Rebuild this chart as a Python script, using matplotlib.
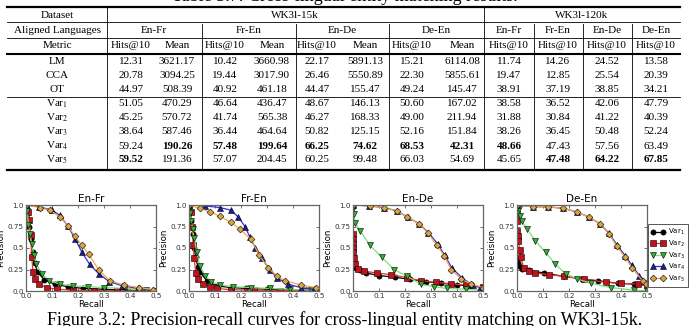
import matplotlib
matplotlib.use('Agg')
import matplotlib.pyplot as plt
from matplotlib.lines import Line2D
import numpy as np

W, H = 692, 326
SERIF = 'Liberation Serif'

# ---- table data ----
methods = ['LM', 'CCA', 'OT', 'Var$_1$', 'Var$_2$', 'Var$_3$', 'Var$_4$', 'Var$_5$']
enfr_hits = [12.31, 20.78, 44.97, 51.05, 45.25, 38.64, 59.24, 59.52]
enfr_mean = [3621.17, 3094.25, 508.39, 470.29, 570.72, 587.46, 190.26, 191.36]
fren_hits = [10.42, 19.44, 40.92, 46.64, 41.74, 36.44, 57.48, 57.07]
fren_mean = [3660.98, 3017.90, 461.18, 436.47, 565.38, 464.64, 199.64, 204.45]
ende_hits = [22.17, 26.46, 44.47, 48.67, 46.27, 50.82, 66.25, 60.25]
ende_mean = [5891.13, 5550.89, 155.47, 146.13, 168.33, 125.15, 74.62, 99.48]
deen_hits = [15.21, 22.30, 49.24, 50.60, 49.00, 52.16, 68.53, 66.03]
deen_mean = [6114.08, 5855.61, 145.47, 167.02, 211.94, 151.84, 42.31, 54.69]
big_enfr = [11.74, 19.47, 38.91, 38.58, 31.88, 38.26, 48.66, 45.65]
big_fren = [14.26, 12.85, 37.19, 36.52, 30.84, 36.45, 47.43, 47.48]
big_ende = [24.52, 25.54, 38.85, 42.06, 41.22, 50.48, 57.56, 64.22]
big_deen = [13.58, 20.39, 34.21, 47.79, 40.39, 52.24, 63.49, 67.85]
pairs = ['En-Fr', 'Fr-En', 'En-De', 'De-En']

# ---- precision-recall curves (recall, precision) per variant ----
enfr_recall = [
    [0.0, 0.005, 0.012, 0.018, 0.025, 0.033, 0.045, 0.07, 0.11, 0.16, 0.22, 0.3, 0.38, 0.46, 0.5],
    [0.0, 0.008, 0.013, 0.018, 0.022, 0.027, 0.035, 0.05, 0.08, 0.12, 0.18, 0.26, 0.35, 0.44, 0.5],
    [0.0, 0.005, 0.009, 0.015, 0.022, 0.03, 0.04, 0.06, 0.09, 0.13, 0.18, 0.24, 0.3, 0.38, 0.46],
    [0.0, 0.05, 0.1, 0.13, 0.16, 0.19, 0.215, 0.245, 0.28, 0.32, 0.37, 0.43, 0.49],
    [0.0, 0.052, 0.092, 0.131, 0.16, 0.188, 0.215, 0.241, 0.281, 0.323, 0.376, 0.435, 0.49],
]
enfr_precision = [
    [1.0, 0.9, 0.75, 0.6, 0.45, 0.32, 0.22, 0.13, 0.08, 0.05, 0.03, 0.02, 0.01, 0.005, 0.0],
    [1.0, 0.92, 0.82, 0.65, 0.40, 0.22, 0.14, 0.08, 0.04, 0.02, 0.01, 0.005, 0.003, 0.002, 0.0],
    [1.0, 0.93, 0.77, 0.66, 0.55, 0.42, 0.31, 0.2, 0.12, 0.08, 0.06, 0.05, 0.04, 0.03, 0.015],
    [1.0, 0.98, 0.94, 0.88, 0.76, 0.6, 0.45, 0.31, 0.2, 0.11, 0.06, 0.03, 0.01],
    [1.0, 0.97, 0.94, 0.86, 0.76, 0.64, 0.53, 0.43, 0.24, 0.12, 0.07, 0.04, 0.015],
]
fren_recall = [
    [0.0, 0.005, 0.009, 0.016, 0.02, 0.026, 0.034, 0.042, 0.068, 0.107, 0.16, 0.22, 0.3, 0.38, 0.45, 0.5],
    [0.0, 0.006, 0.012, 0.016, 0.02, 0.026, 0.035, 0.055, 0.08, 0.107, 0.16, 0.25, 0.35, 0.45, 0.5],
    [0.0, 0.003, 0.009, 0.014, 0.02, 0.03, 0.042, 0.06, 0.085, 0.12, 0.17, 0.24, 0.31, 0.39, 0.47],
    [0.0, 0.06, 0.12, 0.16, 0.19, 0.215, 0.234, 0.255, 0.28, 0.31, 0.34, 0.38, 0.43, 0.48],
    [0.0, 0.042, 0.08, 0.118, 0.16, 0.196, 0.238, 0.27, 0.304, 0.34, 0.37, 0.43, 0.487],
]
fren_precision = [
    [1.0, 0.92, 0.81, 0.66, 0.5, 0.39, 0.28, 0.22, 0.12, 0.06, 0.04, 0.03, 0.02, 0.015, 0.01, 0.01],
    [1.0, 0.92, 0.75, 0.53, 0.38, 0.21, 0.14, 0.08, 0.05, 0.03, 0.015, 0.01, 0.005, 0.003, 0.0],
    [1.0, 0.91, 0.81, 0.72, 0.62, 0.45, 0.29, 0.18, 0.11, 0.07, 0.05, 0.04, 0.03, 0.02, 0.01],
    [1.0, 0.99, 0.97, 0.94, 0.86, 0.75, 0.63, 0.5, 0.38, 0.25, 0.15, 0.08, 0.04, 0.02],
    [1.0, 0.96, 0.92, 0.87, 0.8, 0.72, 0.6, 0.42, 0.27, 0.17, 0.12, 0.07, 0.04],
]
ende_recall = [
    [0.0, 0.003, 0.01, 0.025, 0.05, 0.1, 0.16, 0.22, 0.28, 0.34, 0.4, 0.45, 0.5],
    [0.0, 0.0, 0.0, 0.0, 0.0, 0.004, 0.009, 0.018, 0.041, 0.093, 0.145, 0.209, 0.26, 0.319, 0.377, 0.435, 0.5],
    [0.0, 0.002, 0.009, 0.028, 0.065, 0.112, 0.158, 0.209, 0.26, 0.31, 0.36, 0.435, 0.5],
    [0.0, 0.06, 0.12, 0.17, 0.21, 0.255, 0.29, 0.325, 0.352, 0.38, 0.42, 0.46, 0.49],
    [0.0, 0.067, 0.119, 0.168, 0.209, 0.255, 0.289, 0.323, 0.351, 0.377, 0.416, 0.455, 0.5],
]
ende_precision = [
    [0.36, 0.3, 0.27, 0.24, 0.21, 0.18, 0.16, 0.135, 0.11, 0.09, 0.07, 0.06, 0.045],
    [0.66, 0.6, 0.55, 0.5, 0.45, 0.38, 0.31, 0.26, 0.23, 0.21, 0.19, 0.155, 0.12, 0.10, 0.085, 0.066, 0.05],
    [0.95, 0.89, 0.79, 0.70, 0.53, 0.39, 0.25, 0.17, 0.08, 0.05, 0.03, 0.02, 0.01],
    [1.0, 0.99, 0.97, 0.93, 0.86, 0.78, 0.68, 0.55, 0.42, 0.27, 0.15, 0.07, 0.04],
    [1.0, 0.99, 0.97, 0.93, 0.86, 0.78, 0.67, 0.53, 0.41, 0.25, 0.14, 0.08, 0.04],
]
deen_recall = [
    [0.0, 0.002, 0.006, 0.019, 0.045, 0.103, 0.18, 0.25, 0.31, 0.387, 0.45, 0.5],
    [0.0, 0.0, 0.0, 0.002, 0.005, 0.01, 0.015, 0.026, 0.045, 0.071, 0.122, 0.18, 0.258, 0.341, 0.4, 0.464, 0.5],
    [0.0, 0.006, 0.01, 0.019, 0.039, 0.071, 0.11, 0.148, 0.187, 0.232, 0.283, 0.36, 0.45, 0.5],
    [0.0, 0.062, 0.119, 0.178, 0.229, 0.277, 0.32, 0.354, 0.384, 0.416, 0.442, 0.47, 0.5],
    [0.0, 0.062, 0.119, 0.178, 0.229, 0.277, 0.32, 0.354, 0.384, 0.416, 0.442, 0.483, 0.496],
]
deen_precision = [
    [0.37, 0.33, 0.29, 0.26, 0.24, 0.21, 0.17, 0.14, 0.12, 0.09, 0.08, 0.066],
    [0.9, 0.81, 0.7, 0.64, 0.58, 0.48, 0.39, 0.27, 0.23, 0.21, 0.19, 0.17, 0.14, 0.1, 0.09, 0.08, 0.066],
    [0.97, 0.95, 0.87, 0.81, 0.72, 0.58, 0.45, 0.31, 0.2, 0.14, 0.09, 0.04, 0.01, 0.0],
    [1.0, 0.98, 0.98, 0.96, 0.92, 0.86, 0.78, 0.67, 0.54, 0.41, 0.3, 0.18, 0.1],
    [1.0, 0.98, 0.98, 0.96, 0.92, 0.86, 0.78, 0.66, 0.52, 0.39, 0.27, 0.12, 0.08],
]

var_labels = ['Var$_1$', 'Var$_2$', 'Var$_3$', 'Var$_4$', 'Var$_5$']
line_colors = ['black', '#e3382e', '#7fe07f', '#2f2fd8', '#f4a94a']
face_colors = ['black', '#c4121c', '#33b033', '#1c1c9c', '#d8a546']
markers = ['o', 's', 'v', '^', 'D']
msizes = [3.8, 4.0, 4.2, 4.2, 3.5]


def fx(px):
    return px / W


def fy(py):
    return 1 - py / H


fig = plt.figure(figsize=(W / 100, H / 100), dpi=100)


def hline(y, x0, x1, lw):
    fig.add_artist(Line2D([fx(x0), fx(x1)], [fy(y), fy(y)], color='black', lw=lw,
                          transform=fig.transFigure))


def vline(x, y0, y1, lw=0.6):
    fig.add_artist(Line2D([fx(x), fx(x)], [fy(y0), fy(y1)], color='black', lw=lw,
                          transform=fig.transFigure))


def cell(x, y, s, bold=False, size=8):
    fig.text(fx(x), fy(y), s, ha='center', va='center', family=SERIF, fontsize=size,
             fontweight='bold' if bold else 'normal', math_fontfamily='stix')


# ---- table ----
fig.text(fx(345), fy(1.0), 'Table 3.7: Cross-lingual entity matching results.', ha='center',
         va='baseline', family=SERIF, fontsize=13)

left, right = 7, 680
hline(7, left, right, 1.6)
hline(22, left, right, 0.6)
hline(38, left, right, 0.6)
hline(54, left, right, 1.5)
hline(97, left, right, 0.6)
hline(170, left, right, 1.6)
for x in [107, 484]:
    vline(x, 7, 170)
for x in [202, 296, 389, 534, 583, 632]:
    vline(x, 24, 170)

label_x = 57
cell(label_x, 15, 'Dataset')
cell(label_x, 30.5, 'Aligned Languages')
cell(label_x, 46, 'Metric')
cell(295, 15, 'WK3l-15k')
cell(582, 15, 'WK3l-120k')

small_pairs_x = [154, 249, 342, 436]
hits_x = [131, 225, 317, 412]
mean_x = [177, 272, 365, 462]
big_x = [509, 558, 607, 656]
for i, p in enumerate(pairs):
    cell(small_pairs_x[i], 30.5, p)
    cell(hits_x[i], 46, 'Hits@10')
    cell(mean_x[i], 46, 'Mean')
    cell(big_x[i], 30.5, p)
    cell(big_x[i], 46, 'Hits@10')

row_y = [62, 76, 89.5, 104, 118, 132, 146, 159.5]
small_cols = [(enfr_hits, enfr_mean), (fren_hits, fren_mean),
              (ende_hits, ende_mean), (deen_hits, deen_mean)]
big_cols = [big_enfr, big_fren, big_ende, big_deen]
for r, name in enumerate(methods):
    cell(label_x, row_y[r], name)
    for i, (h, m) in enumerate(small_cols):
        cell(hits_x[i], row_y[r], f'{h[r]:.2f}', bold=(r == int(np.argmax(h))))
        cell(mean_x[i], row_y[r], f'{m[r]:.2f}', bold=(r == int(np.argmin(m))))
    for i, b in enumerate(big_cols):
        cell(big_x[i], row_y[r], f'{b[r]:.2f}', bold=(r == int(np.argmax(b))))

# ---- precision-recall panels ----
panels = [(enfr_recall, enfr_precision), (fren_recall, fren_precision),
          (ende_recall, ende_precision), (deen_recall, deen_precision)]
ax_left = [26, 189, 353, 517]
ax_w, ax_top, ax_bot = 130, 205, 291

for k, (rec, prec) in enumerate(panels):
    ax = fig.add_axes([fx(ax_left[k]), fy(ax_bot), ax_w / W, (ax_bot - ax_top) / H])
    for v in range(5):
        ax.plot(rec[v], prec[v], color=line_colors[v], lw=0.9, marker=markers[v],
                ms=msizes[v], mfc=face_colors[v], mec='black', mew=0.4,
                label=var_labels[v])
    ax.set_xlim(0, 0.5)
    ax.set_ylim(0, 1.0)
    ax.set_xticks([0.0, 0.1, 0.2, 0.3, 0.4, 0.5])
    ax.set_xticklabels(['0.0', '0.1', '0.2', '0.3', '0.4', '0.5'])
    ax.set_yticks([0.0, 0.25, 0.5, 0.75, 1.0])
    ax.set_yticklabels(['0.0', '0.25', '0.5', '0.75', '1.0'])
    ax.tick_params(direction='in', length=2.5, width=0.5, labelsize=5.2, pad=1.5,
                   top=True, right=True, colors='#333333')
    for s in ax.spines.values():
        s.set_color('#666666')
        s.set_linewidth(0.9)
    ax.set_title(pairs[k], fontsize=7.5, pad=2)
    ax.set_xlabel('Recall', fontsize=6.2, labelpad=1)
    ax.set_ylabel('Precision', fontsize=6.2, labelpad=2)

leg = ax.legend(loc='upper left', bbox_to_anchor=(fx(648), fy(224)),
                bbox_transform=fig.transFigure, fontsize=5, numpoints=2,
                handlelength=2.0, handletextpad=0.5, borderpad=0.45, labelspacing=0.2,
                borderaxespad=0, fancybox=False, edgecolor='#555555', framealpha=1)
leg.get_frame().set_linewidth(0.7)

fig.text(fx(345), fy(325), 'Figure 3.2: Precision-recall curves for cross-lingual entity '
         'matching on WK3l-15k.', ha='center', va='baseline', family=SERIF, fontsize=13)

fig.savefig('out.png', dpi=100)
